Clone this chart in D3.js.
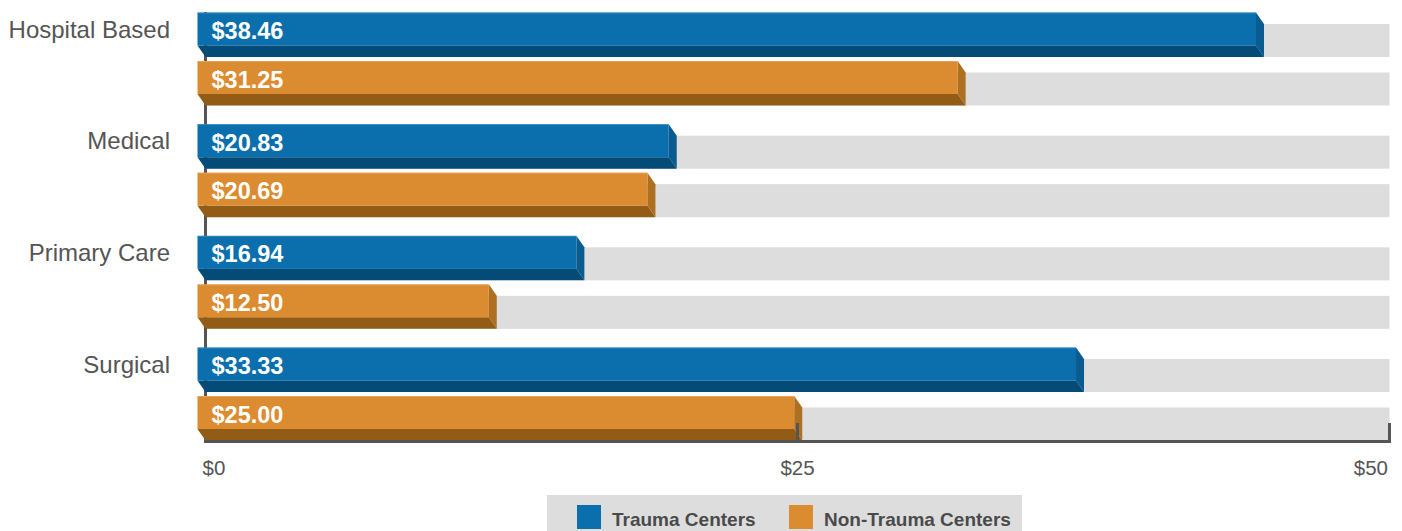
<!DOCTYPE html>
<html>
<head>
<meta charset="utf-8">
<script src="https://cdn.jsdelivr.net/npm/d3@7"></script>
<style>
  html, body { margin: 0; padding: 0; background: #ffffff; }
  svg { display: block; font-family: "Liberation Sans", Arial, Helvetica, sans-serif; }
</style>
</head>
<body>
<svg id="chart" width="1402" height="531"></svg>
<script>
// ---- data ----
const categories = ["Hospital Based", "Medical", "Primary Care", "Surgical"];
const seriesNames = ["Trauma Centers", "Non-Trauma Centers"];
// value labels printed on the bars
const traumaLabels = [38.46, 20.83, 16.94, 33.33];
const nonTraumaLabels = [31.25, 20.69, 12.50, 25.00];
// bar lengths as drawn against the $ axis
const traumaBars = [44.7, 19.9, 16.0, 37.1];
const nonTraumaBars = [32.1, 19.0, 12.3, 25.2];
const tickValues = [0, 25, 50];
const tickLabels = ["$0", "$25", "$50"];

// ---- styles ----
const palette = {
  trauma:    { front: "#0b6fad", bottom: "#044b77", side: "#0a5b8f", edge: "#4f97c6" },
  nonTrauma: { front: "#db8b30", bottom: "#925c17", side: "#ae6f21", edge: "#e9b477" }
};
const trackColor = "#dddddd";
const axisColor = "#555555";
const textColor = "#555555";

const svg = d3.select("#chart");

const x = d3.scaleLinear().domain([0, 50]).range([205.5, 1389.5]);
const y = d3.scaleBand().domain(categories).range([24, 24 + 4 * 111.67]).paddingInner(0).paddingOuter(0);
const seriesOffset = d3.scaleOrdinal().domain(seriesNames).range([0, 48.5]);

const barH = 33, dx = 8, dy = 11.5;

const rows = [];
categories.forEach((c, i) => {
  rows.push({ cat: c, series: seriesNames[0], bar: traumaBars[i], label: traumaLabels[i], pal: palette.trauma });
  rows.push({ cat: c, series: seriesNames[1], bar: nonTraumaBars[i], label: nonTraumaLabels[i], pal: palette.nonTrauma });
});
const rowTop = d => y(d.cat) + seriesOffset(d.series);

// tracks
svg.append("g").selectAll("rect").data(rows).join("rect")
  .attr("x", x(0)).attr("y", d => rowTop(d))
  .attr("width", x(50) - x(0)).attr("height", barH)
  .attr("fill", trackColor);

// vertical axis line (behind bars)
svg.append("line")
  .attr("x1", x(0)).attr("x2", x(0))
  .attr("y1", 12).attr("y2", 443)
  .attr("stroke", axisColor).attr("stroke-width", 3);

// bars
const bars = svg.append("g").selectAll("g").data(rows).join("g");
// bottom face
bars.append("polygon")
  .attr("points", d => {
    const t = rowTop(d), x0 = x(0), x1 = x(d.bar);
    return [[x0 - dx, t - dy + barH], [x1 - dx, t - dy + barH], [x1, t + barH], [x0, t + barH]].join(" ");
  })
  .attr("fill", d => d.pal.bottom);
// right face
bars.append("polygon")
  .attr("points", d => {
    const t = rowTop(d), x1 = x(d.bar);
    return [[x1 - dx, t - dy], [x1, t], [x1, t + barH], [x1 - dx, t - dy + barH]].join(" ");
  })
  .attr("fill", d => d.pal.side);
// front face
bars.append("rect")
  .attr("x", x(0) - dx).attr("y", d => rowTop(d) - dy)
  .attr("width", d => x(d.bar) - x(0)).attr("height", barH)
  .attr("fill", d => d.pal.front);
// light top edge
bars.append("line")
  .attr("x1", x(0) - dx).attr("x2", d => x(d.bar) - dx)
  .attr("y1", d => rowTop(d) - dy + 0.5).attr("y2", d => rowTop(d) - dy + 0.5)
  .attr("stroke", d => d.pal.edge).attr("stroke-width", 1).attr("opacity", 0.6);
// value labels
bars.append("text")
  .attr("x", x(0) - dx + 14)
  .attr("y", d => rowTop(d) + 15)
  .attr("fill", "#ffffff")
  .attr("font-size", 23.5).attr("font-weight", "bold")
  .text(d => "$" + d3.format(".2f")(d.label));

// horizontal axis line and ticks (on top)
svg.append("line")
  .attr("x1", x(0) - 1.5).attr("x2", x(50) + 1.5)
  .attr("y1", 441.5).attr("y2", 441.5)
  .attr("stroke", axisColor).attr("stroke-width", 3);
svg.append("g").selectAll("line").data(tickValues.slice(1)).join("line")
  .attr("x1", d => x(d)).attr("x2", d => x(d))
  .attr("y1", 423).attr("y2", 443)
  .attr("stroke", axisColor).attr("stroke-width", 3);

// tick labels
svg.append("g").selectAll("text").data(tickValues).join("text")
  .attr("x", (d, i) => i === 0 ? x(d) - 3 : (i === tickValues.length - 1 ? x(d) - 1.5 : x(d)))
  .attr("y", 474.5)
  .attr("text-anchor", (d, i) => i === 0 ? "start" : (i === tickValues.length - 1 ? "end" : "middle"))
  .attr("fill", textColor).attr("font-size", 20.5)
  .text((d, i) => tickLabels[i]);

// category labels
svg.append("g").selectAll("text").data(categories).join("text")
  .attr("x", 170).attr("y", d => y(d) + 13.5)
  .attr("text-anchor", "end")
  .attr("fill", textColor).attr("font-size", 24)
  .text(d => d);

// legend
const legend = svg.append("g");
legend.append("rect").attr("x", 547).attr("y", 495).attr("width", 475).attr("height", 40).attr("fill", "#dddddd");
const legendItems = [
  { name: seriesNames[0], color: palette.trauma.front, x: 577 },
  { name: seriesNames[1], color: palette.nonTrauma.front, x: 789 }
];
const li = legend.selectAll("g.item").data(legendItems).join("g").attr("class", "item");
li.append("rect").attr("x", d => d.x).attr("y", 505).attr("width", 24).attr("height", 24).attr("fill", d => d.color);
li.append("text").attr("x", d => d.x + 35).attr("y", 525.5)
  .attr("fill", "#4a4a4a").attr("font-size", 19).attr("font-weight", "bold")
  .text(d => d.name);
</script>
</body>
</html>
